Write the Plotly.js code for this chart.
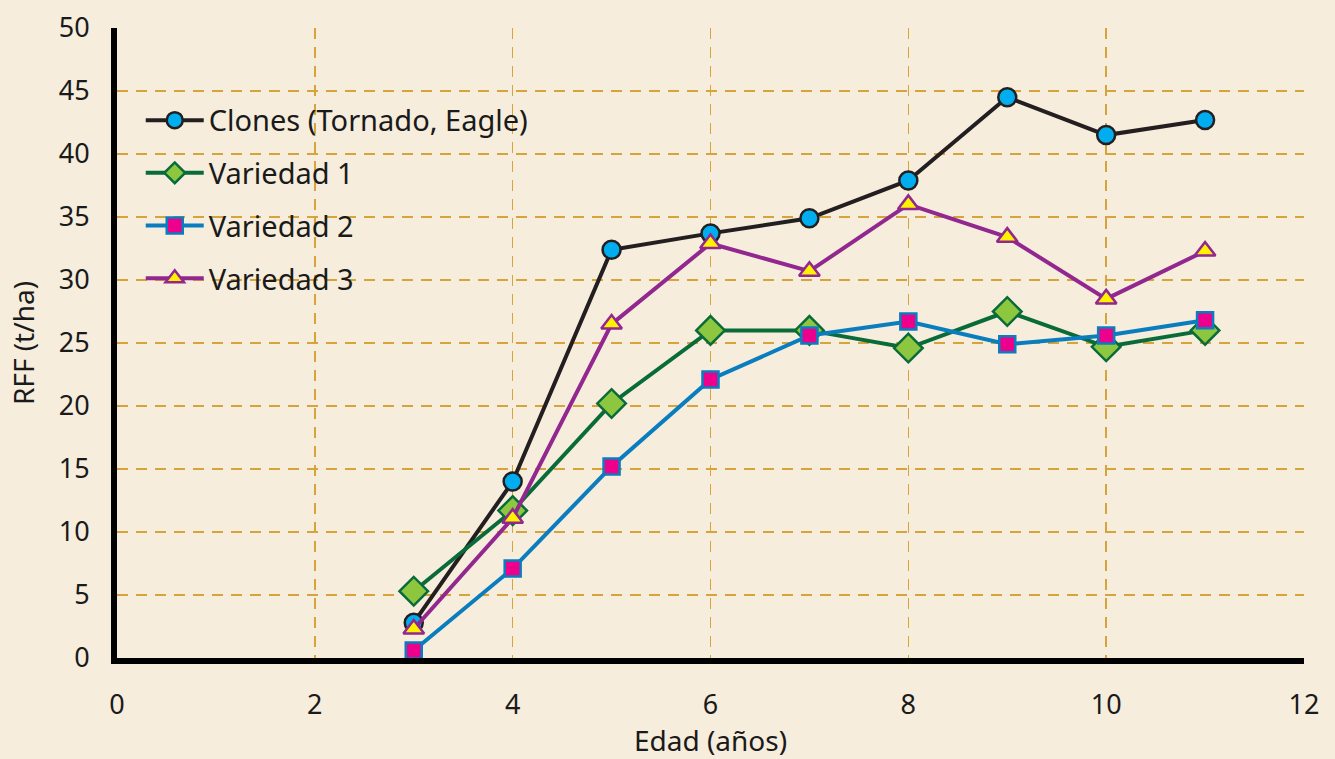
<!DOCTYPE html>
<html>
<head>
<meta charset="utf-8">
<script src="https://cdn.plot.ly/plotly-3.0.1.min.js"></script>
<style>html,body{margin:0;padding:0;background:#F6EDDC;}#chart{width:1335px;height:759px;}</style>
</head>
<body>
<div id="chart"></div>
<script>
const edad = [3, 4, 5, 6, 7, 8, 9, 10, 11];
const clones = [2.8, 14.0, 32.4, 33.7, 34.9, 37.9, 44.5, 41.5, 42.7];
const variedad1 = [5.3, 11.7, 20.2, 26.0, 26.0, 24.6, 27.5, 24.7, 26.0];
const variedad2 = [0.6, 7.1, 15.2, 22.1, 25.6, 26.7, 24.9, 25.6, 26.8];
const variedad3 = [2.3, 11.1, 26.5, 32.9, 30.7, 36.0, 33.4, 28.5, 32.3];
const seriesNames = ["Clones (Tornado, Eagle)", "Variedad 1", "Variedad 2", "Variedad 3"];
const xTicks = [0, 2, 4, 6, 8, 10, 12];
const yTicks = [0, 5, 10, 15, 20, 25, 30, 35, 40, 45, 50];

const font = "Noto Sans, Open Sans, sans-serif";
const textColor = "#1A1A1A";
const traces = [
  {x: edad, y: clones, name: seriesNames[0], legendgroup: "a", mode: "lines+markers",
   line: {color: "#231F20", width: 4},
   marker: {symbol: "circle", size: 18, color: "#00AEEF", line: {color: "#231F20", width: 2.5}}},
  {x: edad, y: variedad1, name: seriesNames[1], legendgroup: "b", mode: "lines+markers",
   line: {color: "#0A6B3A", width: 4},
   marker: {symbol: "diamond", size: 22, color: "#8DC63F", line: {color: "#0A6B3A", width: 2.5}}},
  {x: edad, y: variedad2, name: seriesNames[2], legendgroup: "c", mode: "lines+markers",
   line: {color: "#0A7DBF", width: 4},
   marker: {symbol: "square", size: 16, color: "#EC008C", line: {color: "#0A7DBF", width: 2.5}}},
  {x: edad, y: variedad3, name: seriesNames[3], legendgroup: "d", mode: "lines+markers",
   line: {color: "#92278F", width: 4},
   marker: {symbol: "triangle-up", size: 18, color: "#FFF200", line: {color: "#92278F", width: 2.5}}}
];

const layout = {
  width: 1335, height: 759,
  paper_bgcolor: "#F6EDDC", plot_bgcolor: "#F6EDDC",
  margin: {l: 117, r: 31, t: 28, b: 101},
  font: {family: font, color: textColor, size: 26},
  showlegend: true,
  legend: {x: 0.02, y: 0.894, xanchor: "left", yanchor: "top", bgcolor: "rgba(0,0,0,0)",
           font: {size: 29, family: font, color: textColor}, tracegroupgap: 12, itemwidth: 58},
  xaxis: {
    range: [0, 12], tickvals: xTicks, ticktext: xTicks.map(String),
    showline: true, linecolor: "#000", linewidth: 6,
    showgrid: true, gridcolor: "#D6A43A", gridwidth: 1.5, griddash: "11px,8px",
    zeroline: false, ticks: "", ticklabelstandoff: 18,
    tickfont: {size: 27, family: font, color: textColor},
    title: {text: "Edad (años)", font: {size: 28, family: font, color: textColor}, standoff: 17}
  },
  yaxis: {
    range: [0, 50], tickvals: yTicks, ticktext: yTicks.map(String),
    showline: true, linecolor: "#000", linewidth: 6,
    showgrid: true, gridcolor: "#D6A43A", gridwidth: 1.5, griddash: "11px,8px",
    zeroline: false, ticks: "", ticklabelstandoff: 16,
    tickfont: {size: 27, family: font, color: textColor},
    title: {text: "RFF (t/ha)", font: {size: 28, family: font, color: textColor}, standoff: 18}
  }
};

Plotly.newPlot("chart", traces, layout, {displayModeBar: false, staticPlot: true});
</script>
</body>
</html>
